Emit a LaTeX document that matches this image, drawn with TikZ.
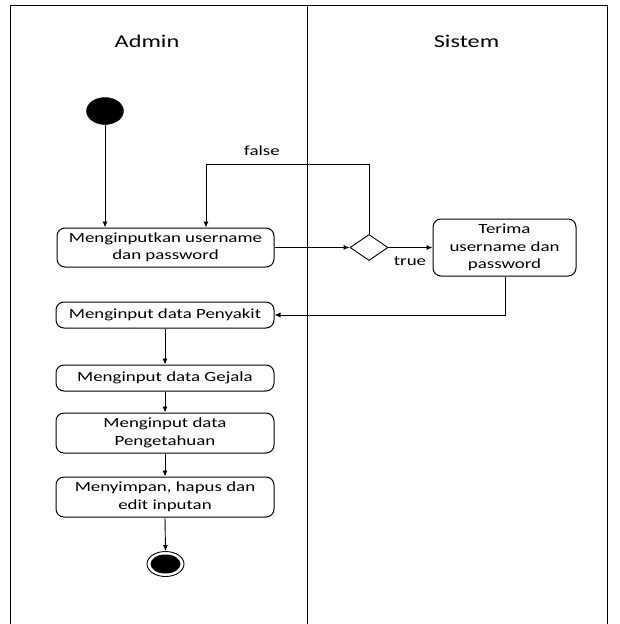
\documentclass[tikz,border=0pt]{standalone}
\usepackage{fontspec}
\setmainfont{Carlito}[FakeStretch=1.35]
\usetikzlibrary{shapes.geometric,arrows.meta}
\tikzset{
  act/.style={draw, rounded corners=8pt, line width=1pt, align=center, inner sep=0pt,
    font=\fontsize{14}{17.5}\selectfont},
  lbl/.style={font=\fontsize{14}{17.5}\selectfont, inner sep=0pt},
  lane/.style={font=\fontsize{18}{22}\selectfont, inner sep=0pt},
  flow/.style={line width=0.9pt, -{Latex[length=6pt,width=5pt]}},
  frame/.style={line width=0.9pt},
}
\begin{document}
\begin{tikzpicture}[x=1pt,y=-1pt]
\useasboundingbox (0,0) rectangle (619,624);
% swimlanes
\draw[frame] (10.5,630) -- (10.5,5.5) -- (607,5.5) -- (607,630);
\draw[frame] (307.5,5.5) -- (307.5,630);
\node[lane] (hadmin) at (147,41) {Admin};
\node[lane] (hsistem) at (466.5,41) {Sistem};
% nodes
\node[draw, fill=black, ellipse, minimum width=37pt, minimum height=27pt, inner sep=0pt] (start) at (105,111) {};
\node[act, minimum width=217pt, minimum height=39pt] (login) at (165.5,247.5) {Menginputkan username\\dan password};
\node[draw, diamond, line width=0.9pt, minimum width=38pt, minimum height=26pt, inner sep=0pt] (dec) at (369,247.5) {};
\node[act, minimum width=143pt, minimum height=57pt] (terima) at (504.5,247.5) {Terima\\username dan\\password};
\node[act, minimum width=218pt, minimum height=26pt] (penyakit) at (165,315) {Menginput data Penyakit};
\node[act, minimum width=218pt, minimum height=26pt] (gejala) at (165,378) {Menginput data Gejala};
\node[act, minimum width=218pt, minimum height=40pt] (peng) at (165,433) {Menginput data\\Pengetahuan};
\node[act, minimum width=218pt, minimum height=40pt] (simpan) at (165,497) {Menyimpan, hapus dan\\edit inputan};
\node[draw, ellipse, line width=0.9pt, minimum width=37pt, minimum height=25pt, inner sep=0pt] (end) at (165.5,564) {};
\fill (end.center) ellipse [x radius=15pt, y radius=9.5pt];
% labels
\node[lbl] (lfalse) at (262,151) {false};
\node[lbl] (ltrue) at (410,261) {true};
% connectors
\draw[flow] (start.south) -- (start.south |- login.north);
\draw[flow] (login.east) -- (dec.west);
\draw[flow] (dec.east) -- (terima.west);
\coordinate (fa) at (369,164);
\coordinate (fb) at (206,164);
\draw[flow] (dec.north) -- (fa) -- (fb) -- (fb |- login.north);
\coordinate (tb) at (505,315);
\draw[flow] (terima.south -| tb) -- (tb) -- (penyakit.east);
\draw[flow] (penyakit.south) -- (gejala.north);
\draw[flow] (gejala.south) -- (peng.north);
\draw[flow] (peng.south) -- (simpan.north);
\draw[flow] (simpan.south) -- (end.north);
\end{tikzpicture}
\end{document}
